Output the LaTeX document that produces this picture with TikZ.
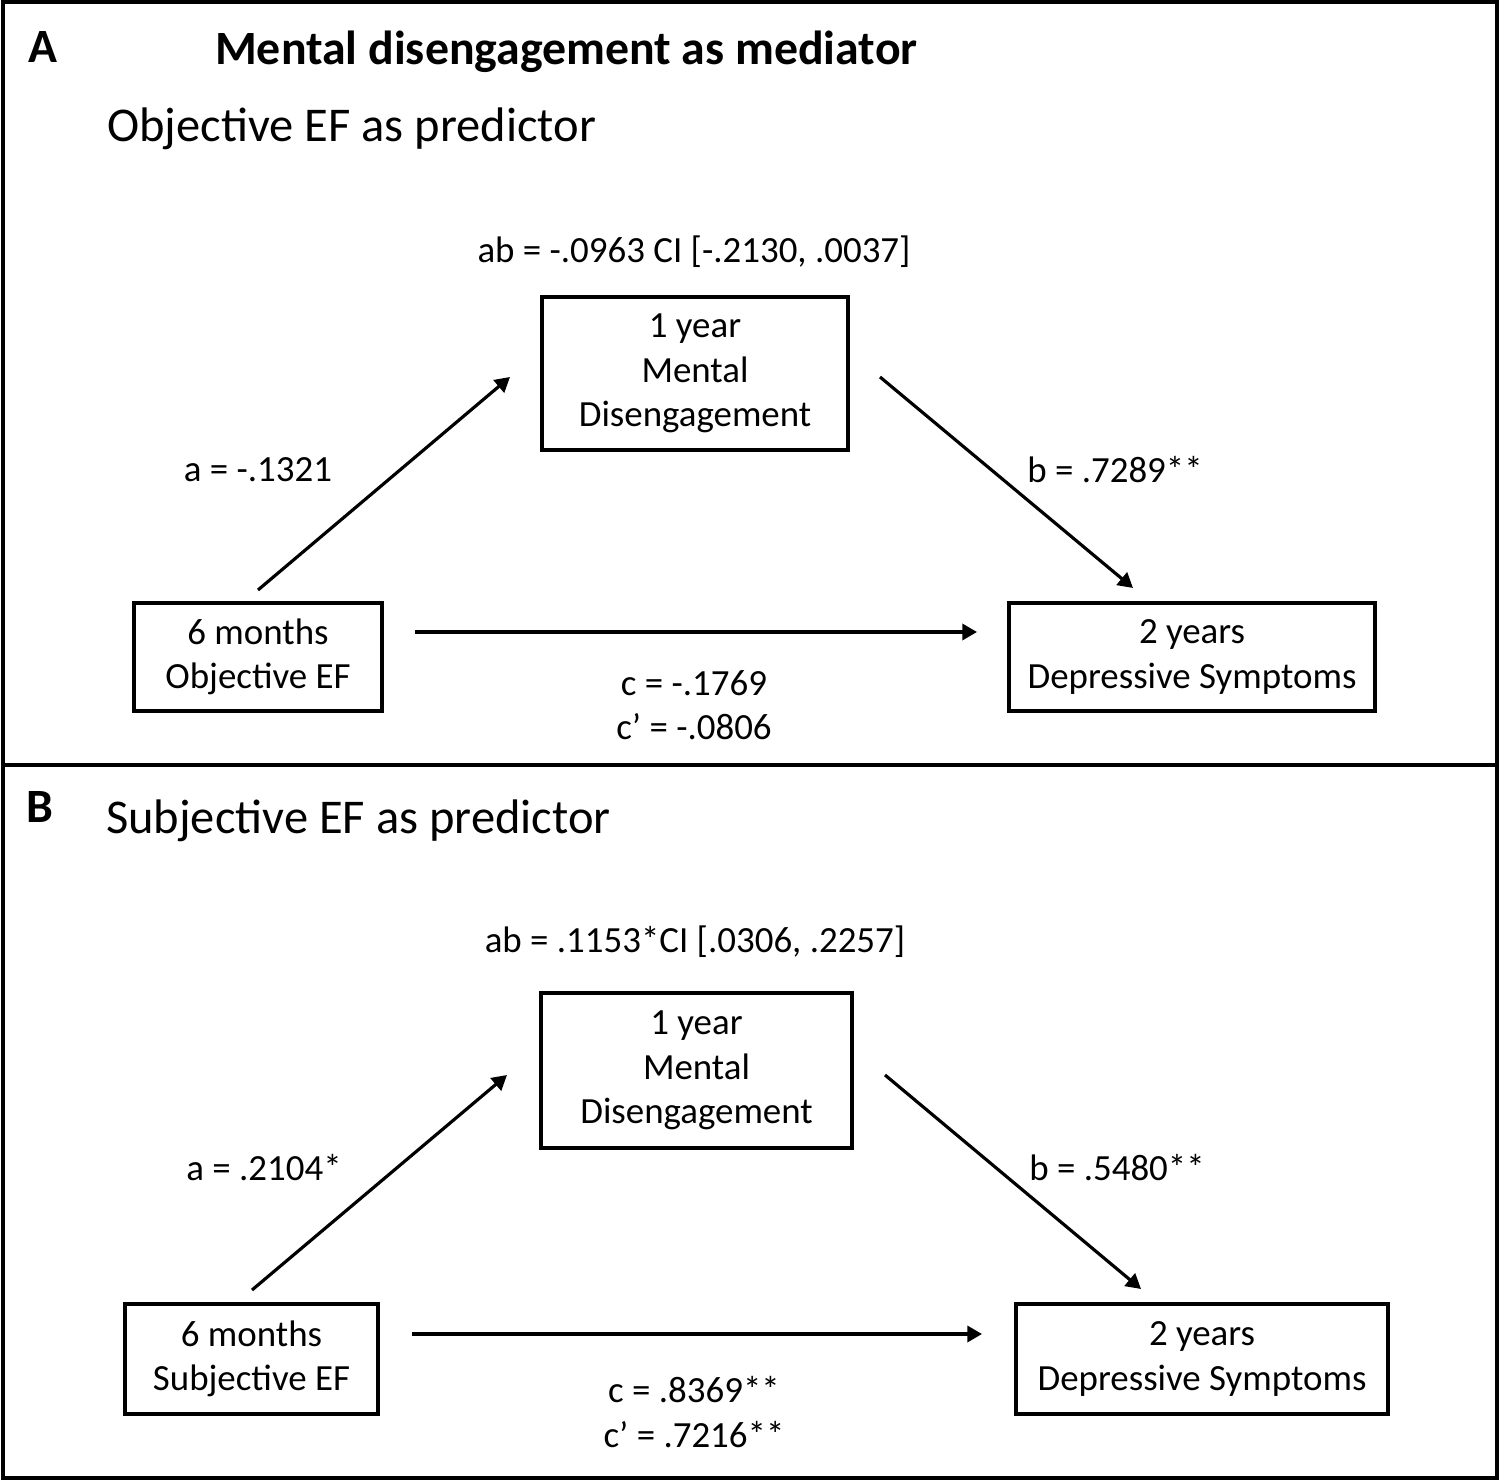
\documentclass[tikz,border=0pt]{standalone}
\usepackage{fontspec}
\setmainfont{Carlito}
\usetikzlibrary{arrows.meta}

\tikzset{%
  every node/.style={
    inner sep=1pt, align=center,
    font=\fontsize{10.5}{12.6}\selectfont
  },
  box/.style={draw, line width=1pt, inner sep=0pt},
  link/.style={line width=0.9pt, -{Triangle[length=4.2pt,width=4.6pt]}},
  head/.style={font=\fontsize{13.6}{16}\selectfont\bfseries},
  sub/.style={font=\fontsize{13.8}{16.5}\selectfont}
}

\begin{document}
\begin{tikzpicture}
        \useasboundingbox (0,0) rectangle (15.02,-14.82);
        \draw[line width=0.9pt] (0.03,-0.02) rectangle (14.97,-14.78);
        \draw[line width=0.9pt] (0.03,-7.65) -- (14.97,-7.65);
        % panel A
        \node[head] at (0.43,-0.47) (A) {A};
        \node[head, anchor=west] at (2.11,-0.52) (titleA) {Mental disengagement as mediator};
        \node[sub, anchor=west] at (1.03,-1.29) (subA) {Objective EF as predictor};
        \node at (6.94,-2.52) (abA) {ab = -.0963 CI [-.2130, .0037]};
        \node[box, minimum width=3.06cm, minimum height=1.53cm] at (6.95,-3.735) (medA) {1 year\\Mental\\Disengagement};
        \node[box, minimum width=2.48cm, minimum height=1.08cm] at (2.58,-6.57) (xA) {6 months\\Objective EF};
        \node[box, minimum width=3.66cm, minimum height=1.08cm] at (11.92,-6.57) (yA) {2 years\\Depressive Symptoms};
        \node at (2.58,-4.70) (aA) {a = -.1321};
        \node at (11.15,-4.70) (bA) {b = .7289**};
        \node at (6.94,-6.83) (cA) {c = -.1769};
        \node at (6.94,-7.27) (cpA) {c’ = -.0806};
        \coordinate (a0A) at (2.58,-5.90);
        \coordinate (a1A) at (5.10,-3.77);
        \coordinate (b0A) at (8.80,-3.77);
        \coordinate (b1A) at (11.33,-5.88);
        \coordinate (c0A) at (4.15,-6.32);
        \coordinate (c1A) at (9.77,-6.32);
        \draw[link] (a0A) -- (a1A);
        \draw[link] (b0A) -- (b1A);
        \draw[link] (c0A) -- (c1A);
        % panel B
        \node[head] at (0.40,-8.07) (B) {B};
        \node[sub, anchor=west] at (1.02,-8.21) (subB) {Subjective EF as predictor};
        \node at (6.95,-9.42) (abB) {ab = .1153*CI [.0306, .2257]};
        \node[box, minimum width=3.11cm, minimum height=1.55cm] at (6.965,-10.705) (medB) {1 year\\Mental\\Disengagement};
        \node[box, minimum width=2.53cm, minimum height=1.10cm] at (2.515,-13.59) (xB) {6 months\\Subjective EF};
        \node[box, minimum width=3.72cm, minimum height=1.10cm] at (12.02,-13.59) (yB) {2 years\\Depressive Symptoms};
        \node at (2.64,-11.68) (aB) {a = .2104*};
        \node at (11.17,-11.68) (bB) {b = .5480**};
        \node at (6.94,-13.90) (cB) {c = .8369**};
        \node at (6.94,-14.35) (cpB) {c’ = .7216**};
        \coordinate (a0B) at (2.52,-12.90);
        \coordinate (a1B) at (5.07,-10.75);
        \coordinate (b0B) at (8.85,-10.75);
        \coordinate (b1B) at (11.41,-12.89);
        \coordinate (c0B) at (4.12,-13.34);
        \coordinate (c1B) at (9.82,-13.34);
        \draw[link] (a0B) -- (a1B);
        \draw[link] (b0B) -- (b1B);
        \draw[link] (c0B) -- (c1B);
      \end{tikzpicture}
\end{document}
